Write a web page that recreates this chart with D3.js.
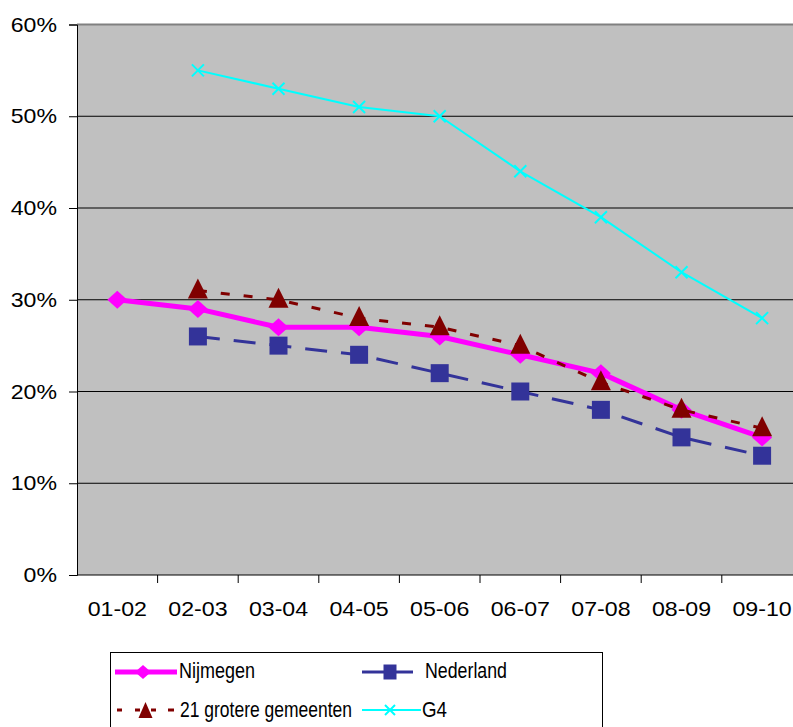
<!DOCTYPE html>
<html><head><meta charset="utf-8">
<script src="https://cdn.jsdelivr.net/npm/d3@7"></script>
<style>body{margin:0;background:#fff}svg{display:block;font-family:"Liberation Sans",Arial,sans-serif}</style>
</head><body><svg id="c" width="793" height="727"></svg>
<script>
const categories = ["01-02","02-03","03-04","04-05","05-06","06-07","07-08","08-09","09-10"];
const yTicks = [0,10,20,30,40,50,60];
const nijmegen = [30,29,27,27,26,24,22,18,15];
const nederland = [null,26,25,24,22,20,18,15,13];
const grotere21 = [null,31,30,28,27,25,21,18,16];
const g4 = [null,55,53,51,50,44,39,33,28];

const svg = d3.select("#c");
const L=77, T=24.5, B=575, W=725.4;
const x = d3.scaleBand().domain(categories).range([L, L+W]);
const y = d3.scaleLinear().domain([0,60]).range([B, T]);

function stretch(sel, f){
  sel.each(function(){
    const n=this.getComputedTextLength();
    d3.select(this).attr("textLength",n*f).attr("lengthAdjust","spacingAndGlyphs");
  });
}

svg.append("rect").attr("x",L).attr("y",T).attr("width",W).attr("height",B-T).attr("fill","#C0C0C0");
svg.append("g").selectAll("line").data(yTicks.filter(d=>d>0&&d<60)).join("line")
  .attr("x1",L).attr("x2",L+W).attr("y1",d=>y(d)).attr("y2",d=>y(d)).attr("stroke","#000").attr("stroke-width",1);
svg.append("line").attr("x1",L).attr("x2",L+W).attr("y1",T).attr("y2",T).attr("stroke","#808080").attr("stroke-width",2);

const ya = svg.append("g").attr("transform",`translate(${L},0)`)
  .call(d3.axisLeft(y).tickValues(yTicks).tickFormat(d=>d+"%").tickSize(8).tickPadding(12));
ya.select(".domain").attr("stroke","#000");
ya.selectAll(".tick line").attr("stroke","#000");
ya.selectAll("text").attr("font-size",21).attr("fill","#000").attr("font-family","Liberation Sans, Arial, sans-serif");
stretch(ya.selectAll("text"),1.1);

const xa = svg.append("g").attr("transform",`translate(0,${B})`)
  .call(d3.axisBottom(x).tickSize(0).tickPadding(26));
xa.select(".domain").attr("stroke","#000").attr("d",`M${L},0H${L+W}`);
xa.selectAll("text").attr("font-size",20.5).attr("fill","#000").attr("font-family","Liberation Sans, Arial, sans-serif");
stretch(xa.selectAll("text"),1.13);
svg.append("g").selectAll("line").data(categories.slice(1)).join("line")
  .attr("x1",d=>x(d)).attr("x2",d=>x(d)).attr("y1",B).attr("y2",B+8).attr("stroke","#000");

const cx = (d,i)=>x(categories[i])+x.bandwidth()/2;
function series(vals, opts){
  const line = d3.line().defined(d=>d!=null).x((d,i)=>cx(d,i)).y(d=>y(d));
  svg.append("path").datum(vals).attr("d",line).attr("fill","none")
    .attr("stroke",opts.color).attr("stroke-width",opts.width).attr("stroke-dasharray",opts.dash||null)
    .attr("stroke-linejoin","round");
  const pts = vals.map((v,i)=>({v,i})).filter(p=>p.v!=null);
  svg.append("g").selectAll("path").data(pts).join("path")
    .attr("transform",p=>`translate(${cx(p.v,p.i)},${y(p.v)})`)
    .attr("d",opts.marker).attr("fill",opts.fill||"none").attr("stroke",opts.mstroke||"none").attr("stroke-width",opts.mw||0);
}
const diamond="M0,-9L10,0L0,9L-10,0Z";
const square="M-9,-9H9V9H-9Z";
const tri="M0,-12L10,8H-10Z";
const cross="M-6,-6L6,6M-6,6L6,-6";

series(g4,{color:"#00FFFF",width:2,marker:cross,mstroke:"#00FFFF",mw:2});
series(nederland,{color:"#333399",width:3,dash:"22,14",marker:square,fill:"#333399"});
series(nijmegen,{color:"#FF00FF",width:5,marker:diamond,fill:"#FF00FF"});
series(grotere21,{color:"#800000",width:3,dash:"9,14",marker:tri,fill:"#800000"});

// legend
const lg = svg.append("g");
lg.append("rect").attr("x",110.5).attr("y",652.5).attr("width",492).attr("height",90).attr("fill","#fff").attr("stroke","#000");
const items=[
  {name:"Nijmegen",segs:[[115,177]],mx:143,tx:179,tw:76,y:672,by:678,color:"#FF00FF",w:5,marker:"M0,-7L8,0L0,7L-8,0Z",fill:"#FF00FF"},
  {name:"Nederland",segs:[[362,384],[396,413]],mx:390,tx:425,tw:82,y:672,by:678,color:"#333399",w:3,marker:"M-6.5,-7.5H6.5V7.5H-6.5Z",fill:"#333399"},
  {name:"21 grotere gemeenten",segs:[[117,122],[135,140],[151,156],[168,174]],mx:145.5,tx:180,tw:172,y:710,by:717,color:"#800000",w:3,marker:"M0,-8L7,8H-7Z",fill:"#800000"},
  {name:"G4",segs:[[362,421]],mx:390,tx:422,tw:25,y:710,by:717,color:"#00FFFF",w:2,marker:"M-5,-5L5,5M-5,5L5,-5",mstroke:"#00FFFF",mw:2}
];
items.forEach(it=>{
  it.segs.forEach(s=>lg.append("line").attr("x1",s[0]).attr("x2",s[1]).attr("y1",it.y).attr("y2",it.y).attr("stroke",it.color).attr("stroke-width",it.w));
  lg.append("path").attr("transform",`translate(${it.mx},${it.y})`).attr("d",it.marker)
    .attr("fill",it.fill||"none").attr("stroke",it.mstroke||"none").attr("stroke-width",it.mw||0);
  lg.append("text").attr("x",it.tx).attr("y",it.by).attr("font-size",21.5).attr("fill","#000")
    .attr("textLength",it.tw).attr("lengthAdjust","spacingAndGlyphs").text(it.name);
});
</script></body></html>
